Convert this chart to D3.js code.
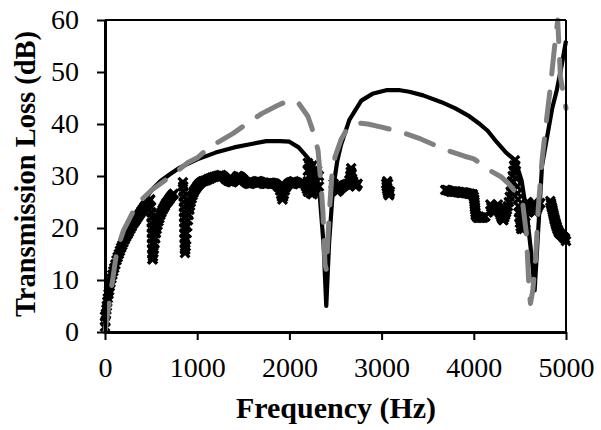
<!DOCTYPE html>
<html><head><meta charset="utf-8">
<script src="https://cdn.jsdelivr.net/npm/d3@7"></script>
<style>body{margin:0;background:#fff}</style>
</head><body>
<svg id="chart" width="601" height="430"></svg>
<script>
const xTicks = [0, 1000, 2000, 3000, 4000, 5000];
const yTicks = [0, 10, 20, 30, 40, 50, 60];

// Black solid series
const solidFreq = [0,25,50,100,150,200,300,400,500,600,700,800,1000,1200,1400,1600,1750,1900,2000,2100,2200,2280,2330,2370,2400,2430,2470,2520,2560,2650,2780,2900,3050,3200,3300,3450,3650,3800,3950,4050,4150,4250,4350,4450,4520,4580,4630,4660,4700,4740,4800,4850,4900,4950,5000];
const solidTL   = [0,4,7,11,14.5,17,21,24.5,27.2,29,30.3,31.5,33.2,34.5,35.5,36.2,36.7,36.7,36.6,35.5,33.5,30,26,17,5,17,27,33,36,40.8,44.5,45.8,46.5,46.5,46.2,45.5,44.2,43,41.5,40.2,38.7,36.5,34.5,33,29,22,14,8,20,32,38,43,46.5,51,56];

// Gray dashed series
const dashFreq = [0,50,130,200,300,400,500,700,900,1000,1140,1390,1550,1700,1865,2000,2100,2200,2245,2310,2340,2364,2386,2400,2430,2460,2495,2560,2625,2750,2850,3000,3200,3400,3700,3900,4000,4200,4300,4380,4450,4530,4570,4600,4615,4640,4670,4700,4740,4790,4830,4880,4910,4940,4970,5000];
const dashTL   = [0,6,15.8,19.5,23,25.5,27.2,29.8,32.6,33.5,35.6,38.2,40.2,42,43.5,44.6,44,41.5,39.2,35,29,23,13,12,22,30,33.7,37,39,40.2,40,39.4,38.5,37.3,35,33.8,33.3,30.8,29.8,28.5,27,24.8,19,8,5.5,8,14,24,33,41,47,55.5,60,49,46,43];

// Cross-marker series: [frequency, transmission loss]
const markerSeries = [
 [0,1],[0,3],[5,2],[10,3.5],[15,4.3],[20,5],[25,5.8],[30,6.5],[38,7.3],[45,8],[52,8.8],[60,9.5],[70,10.3],[80,11],[90,11.7],[100,12.3],[112,13],[125,13.8],[137,14.4],[150,15],[162,15.6],[175,16.2],[187,16.7],[200,17.2],[215,17.8],[230,18.3],[245,18.8],[260,19.3],[275,19.8],[290,20.3],[305,20.8],[320,21.2],[335,21.6],[350,22],[365,22.4],[380,22.8],[395,23.2],[410,23.6],[425,24],[440,24.3],[455,24.7],[470,25],[480,25.3],[490,25.5],
 [500,24],[503,23],[505,22],[507,21],[508,20],[509,19],[510,18],[511,17],[512,16],[513,15],[514,14],[517,14],[520,14.5],[525,15.3],[530,16],[537,17],[545,18],[552,19],[560,19.8],[570,20.6],[580,21.3],[590,21.9],[600,22.5],[612,23],[625,23.5],[637,23.9],[650,24.3],[662,24.7],[675,25],[687,25.3],[700,25.6],[712,25.9],[725,26.2],[735,26.4],[745,26.6],
 [845,28.8],[848,28],[850,27],[852,26],[855,25],[857,24],[858,23],[859,22],[860,21],[861,20],[862,19],[863,18],[865,17],[866,16],[868,15.2],[871,15.8],[875,16.5],[880,17.8],[885,19],[892,20.3],[900,21.5],[907,22.5],[915,23.5],[922,24.3],[930,25],[940,25.7],[950,26.3],[960,26.8],[970,27.2],[985,27.6],[1000,28],[1015,28.3],[1030,28.6],[1045,28.8],[1060,29],[1080,29.1],[1100,29.2],[1120,29.4],[1140,29.5],[1160,29.7],[1180,29.8],[1200,29.9],[1220,30],[1240,30.1],[1260,30.2],[1275,30],[1290,29.8],[1305,29.5],[1320,29.3],[1335,29.1],[1350,29],[1365,28.9],[1380,28.8],[1395,29],[1410,29.3],[1425,29.7],[1440,30],[1455,29.9],[1470,29.8],[1485,29.5],[1500,29.3],[1515,29],[1530,28.8],[1545,28.6],[1560,28.5],[1575,28.5],[1590,28.6],[1605,28.7],[1620,28.8],[1635,28.9],[1650,29],[1665,29],[1680,28.9],[1695,28.8],[1710,28.6],[1725,28.5],[1740,28.5],[1755,28.5],[1770,28.6],[1785,28.7],[1800,28.7],[1815,28.6],[1830,28.6],[1845,28.5],[1860,28.3],[1875,28],[1890,27.8],[1900,27.2],[1910,26.5],[1918,26],[1925,25.5],[1932,26],[1940,26.5],[1950,27.2],[1960,27.8],[1975,28.2],[1990,28.5],[2005,28.7],[2020,28.8],[2035,28.9],[2050,29],[2065,28.8],[2080,28.6],[2095,28.5],[2110,28.4],[2125,28.6],[2140,28.8],[2155,28.7],[2170,28.5],[2180,28],[2190,27.5],
 [2200,27],[2200,29],[2200,31],[2200,32.5],[2215,27.5],[2215,30],[2215,32],[2230,26.7],[2230,29],[2230,31.5],[2250,26.5],[2250,28.5],[2250,30.5],[2250,32],[2265,27],[2265,29.5],[2265,31],[2280,27.5],[2280,29],[2280,30.5],[2300,27],[2300,29],[2300,31],[2320,28],[2320,30],
 [2480,28.5],[2490,28],[2500,27.5],[2510,27.2],[2520,27],[2535,27.2],[2550,27.5],[2565,27.8],[2580,28],[2595,28.2],[2610,28.3],[2625,28.4],[2640,28.5],[2650,29.2],[2660,30],[2665,30.8],[2670,31.5],[2675,30.5],[2680,29.5],[2690,29],[2700,28.5],[2710,28.2],[2720,28],[2730,28.2],[2740,28.5],
 [3050,28.5],[3055,28],[3060,27.5],[3060,29],[3065,27.1],[3070,26.8],[3070,28.5],[3075,26.5],[3080,26.3],[3085,26.6],[3090,27],
 [3690,27.3],[3705,27.3],[3720,27.2],[3735,27.1],[3750,27],[3765,27],[3780,27],[3795,27],[3810,27],[3825,26.9],[3840,26.9],[3855,26.8],[3870,26.8],[3885,26.8],[3900,26.8],[3915,26.7],[3930,26.7],[3945,26.6],[3960,26.6],[3975,26.5],[3990,26.5],[4000,26],[4005,25.5],[4008,25],[4010,24.5],[4013,24],[4015,23.5],[4018,23],[4020,22.5],[4030,22.2],[4040,22],[4055,22],[4070,22],[4085,22],[4100,22],[4112,22.1],[4125,22.2],
 [4180,24.5],[4190,24],[4200,23.5],[4210,23.2],[4220,23],[4230,23.2],[4240,23.5],[4250,24],[4260,24.5],[4270,23.8],[4280,23],[4290,22.5],[4300,22],[4310,21.7],[4320,21.5],[4330,22],[4340,22.5],[4350,23],[4360,23.5],[4370,24.2],[4380,25],[4390,26],[4400,27],[4408,28],[4415,29],[4422,30],[4430,31],[4437,32],[4445,33],[4450,32],[4455,31],[4462,29.5],[4470,28],[4475,26.7],[4480,25.5],[4485,24.2],[4490,23],[4495,22],[4500,21],[4500,24],[4508,20.3],[4515,19.8],[4520,22.5],[4522,20],[4530,20.5],[4537,21.5],[4540,19.8],[4545,22.5],[4552,23.3],[4560,24],[4560,21],[4570,24.5],[4580,25],[4590,24.8],[4600,24.5],[4610,24.2],[4620,24],[4630,23.8],[4640,23.5],[4650,23.2],[4660,23],[4670,23.2],[4680,23.5],[4690,23.9],[4700,24.3],[4710,24.6],[4720,24.8],
 [4830,25.2],[4835,24.8],[4840,24.5],[4845,24.1],[4850,23.8],[4855,23.4],[4860,23],[4865,22.6],[4870,22.2],[4875,21.8],[4880,21.5],[4885,21.1],[4890,20.8],[4895,20.5],[4900,20.2],[4907,19.8],[4915,19.5],[4922,19.2],[4930,19],[4940,18.8],[4950,18.7],[4960,18.5],[4970,18.3],[4980,18.1],[4990,18],[5000,17.5]
];

const svg = d3.select("#chart");
const x = d3.scaleLinear().domain([0, 5000]).range([105, 566]);
const y = d3.scaleLinear().domain([0, 60]).range([332, 20]);
const font = "'Liberation Serif','Times New Roman',serif";

// Markers
svg.append("g").selectAll("path").data(markerSeries).join("path")
  .attr("transform", d => `translate(${x(d[0])},${y(d[1])})`)
  .attr("d", "M-4.4,-4.4L4.4,4.4M4.4,-4.4L-4.4,4.4")
  .attr("stroke", "#000").attr("stroke-width", 3.2).attr("fill", "none");

// Solid line
const line = d3.line().x(d => x(d[0])).y(d => y(d[1]));
svg.append("path")
  .datum(d3.range(solidFreq.length).map(i => [solidFreq[i], solidTL[i]]))
  .attr("d", line).attr("fill", "none").attr("stroke", "#000")
  .attr("stroke-width", 4.2).attr("stroke-linejoin", "round");

// Dashed line
svg.append("path")
  .datum(d3.range(dashFreq.length).map(i => [dashFreq[i], dashTL[i]]))
  .attr("d", line).attr("fill", "none").attr("stroke", "#808080")
  .attr("stroke-width", 5).attr("stroke-linejoin", "round")
  .attr("stroke-linecap", "round").attr("stroke-dasharray", "29,18");

// Frame top/right
svg.append("line").attr("x1", 105).attr("x2", 566).attr("y1", 20).attr("y2", 20)
  .attr("stroke", "#000").attr("stroke-width", 2);
svg.append("line").attr("x1", 566).attr("x2", 566).attr("y1", 20).attr("y2", 332)
  .attr("stroke", "#000").attr("stroke-width", 2);

// Axes
const xAxis = svg.append("g").attr("transform", "translate(0,332)")
  .call(d3.axisBottom(x).tickValues(xTicks).tickSize(8).tickSizeOuter(0).tickPadding(17).tickFormat(d3.format("d")));
const yAxis = svg.append("g").attr("transform", "translate(105,0)")
  .call(d3.axisLeft(y).tickValues(yTicks).tickSize(8).tickSizeOuter(0).tickPadding(18).tickFormat(d3.format("d")));
[xAxis, yAxis].forEach(g => {
  g.select(".domain").attr("stroke-width", 3);
  g.selectAll(".tick line").attr("stroke-width", 2);
  g.selectAll("text").attr("font-family", font).attr("font-size", 28).attr("fill", "#000");
});

// Titles
svg.append("text").attr("x", 336).attr("y", 418).attr("text-anchor", "middle")
  .attr("font-family", font).attr("font-weight", "bold").attr("font-size", 30)
  .text("Frequency (Hz)");
svg.append("text").attr("transform", "translate(35,174) rotate(-90)").attr("text-anchor", "middle")
  .attr("font-family", font).attr("font-weight", "bold").attr("font-size", 28.5)
  .text("Transmission Loss (dB)");
</script>
</body></html>
